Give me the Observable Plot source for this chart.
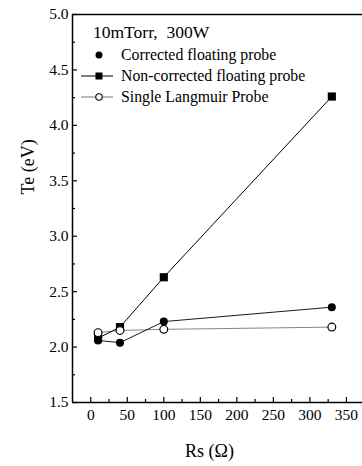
<!DOCTYPE html>
<html>
<head>
<meta charset="utf-8">
<script src="https://cdn.jsdelivr.net/npm/d3@7"></script>
<script src="https://cdn.jsdelivr.net/npm/@observablehq/plot@0.6"></script>
<style>
  html, body { margin: 0; padding: 0; background: #fff; }
  #wrap { position: relative; width: 362px; height: 466px; font-family: "Liberation Serif", "DejaVu Serif", serif; }
  #wrap svg, #wrap svg text { font-family: "Liberation Serif", "DejaVu Serif", serif !important; }
  #legend { position: absolute; left: 0; top: 0; pointer-events: none; }
</style>
</head>
<body>
<div id="wrap"></div>
<script>
// ---- data ----
const rs = [10, 40, 100, 330];
const corrected = [2.06, 2.04, 2.23, 2.36];
const nonCorrected = [2.08, 2.18, 2.63, 4.26];
const langmuir = [2.13, 2.15, 2.16, 2.18];
const xMajorTicks = [0, 50, 100, 150, 200, 250, 300, 350];
const xMinorTicks = [25, 75, 125, 175, 225, 275, 325];
const yMajorTicks = [1.5, 2.0, 2.5, 3.0, 3.5, 4.0, 4.5, 5.0];
const yMinorTicks = [1.75, 2.25, 2.75, 3.25, 3.75, 4.25, 4.75];
const title = "10mTorr,\u00A0\u00A0300W";
const seriesNames = ["Corrected floating probe", "Non-corrected floating probe", "Single Langmuir Probe"];
const xLabel = "Rs (\u03A9)";
const yLabel = "Te (eV)";

const xDomain = [-25, 372];
const yDomain = [1.5, 5.0];

const toRows = (vals) => rs.map((x, i) => ({x, y: vals[i]}));
const rowsC = toRows(corrected);
const rowsN = toRows(nonCorrected);
const rowsL = toRows(langmuir);

const W = 362, H = 466, mL = 72, mR = 0, mT = 14, mB = 64;
const kx = (W - mL - mR) / (xDomain[1] - xDomain[0]);
const ky = (H - mT - mB) / (yDomain[1] - yDomain[0]);
const FF = "Liberation Serif";

const plot = Plot.plot({
  width: W,
  height: H,
  marginLeft: mL,
  marginRight: mR,
  marginTop: mT,
  marginBottom: mB,
  style: { background: "#fff", fontFamily: FF },
  x: { domain: xDomain, label: null },
  y: { domain: yDomain, label: null },
  marks: [
    Plot.ruleY([yDomain[1]], { stroke: "#000", strokeWidth: 1.5 }),
    Plot.ruleY([yDomain[0]], { stroke: "#000", strokeWidth: 1.5 }),
    Plot.ruleX([xDomain[0]], { stroke: "#000", strokeWidth: 1.5 }),
    Plot.ruleX(xMajorTicks, { y1: yDomain[0], y2: yDomain[0] + 5 / ky, stroke: "#000", strokeWidth: 1.2 }),
    Plot.ruleX(xMinorTicks, { y1: yDomain[0], y2: yDomain[0] + 3 / ky, stroke: "#000", strokeWidth: 1.2 }),
    Plot.ruleY(yMajorTicks, { x1: xDomain[0], x2: xDomain[0] + 5 / kx, stroke: "#000", strokeWidth: 1.2 }),
    Plot.ruleY(yMinorTicks, { x1: xDomain[0], x2: xDomain[0] + 3 / kx, stroke: "#000", strokeWidth: 1.2 }),
    Plot.axisX(xMajorTicks, { tickSize: 0, tickPadding: 6, fontSize: 15.5, fontFamily: FF, tickFormat: d => String(d), fill: "#000" }),
    Plot.axisY(yMajorTicks, { tickSize: 0, tickPadding: 4, fontSize: 15.5, fontFamily: FF, tickFormat: d => d.toFixed(1), fill: "#000" }),
    Plot.text([xLabel], { frameAnchor: "bottom", dy: 54, fontSize: 18, fontFamily: FF, fill: "#000", dx: -8 }),
    Plot.text([yLabel], { frameAnchor: "left", dx: -44, dy: -14, rotate: -90, fontSize: 18, fontFamily: FF, fill: "#000" }),
    Plot.line(rowsL, { x: "x", y: "y", stroke: "#777", strokeWidth: 0.9 }),
    Plot.line(rowsN, { x: "x", y: "y", stroke: "#000", strokeWidth: 1 }),
    Plot.line(rowsC, { x: "x", y: "y", stroke: "#000", strokeWidth: 0.9 }),
    Plot.dot(rowsN, { x: "x", y: "y", symbol: "square", r: 4.6, fill: "#000", stroke: "none" }),
    Plot.dot(rowsC, { x: "x", y: "y", symbol: "circle", r: 4, fill: "#000", stroke: "none" }),
    Plot.dot(rowsL, { x: "x", y: "y", symbol: "circle", r: 3.9, fill: "#fff", stroke: "#000", strokeWidth: 1.2 })
  ]
});

const wrap = document.getElementById("wrap");
wrap.appendChild(plot);

const ns = "http://www.w3.org/2000/svg";
const lg = document.createElementNS(ns, "svg");
lg.setAttribute("id", "legend");
lg.setAttribute("width", W);
lg.setAttribute("height", 120);
const mk = (tag, attrs, text) => {
  const el = document.createElementNS(ns, tag);
  for (const k in attrs) el.setAttribute(k, attrs[k]);
  if (text) el.textContent = text;
  lg.appendChild(el);
  return el;
};
mk("text", { x: 93, y: 38, "font-size": 17.5, fill: "#000", "font-family": FF }, title);
const rowsY = [55, 76, 97];
mk("circle", { cx: 99, cy: rowsY[0], r: 3.5, fill: "#000" });
mk("line", { x1: 81, x2: 113, y1: rowsY[1], y2: rowsY[1], stroke: "#000", "stroke-width": 1 });
mk("rect", { x: 95.5, y: rowsY[1] - 3.5, width: 7, height: 7, fill: "#000" });
mk("line", { x1: 81, x2: 113, y1: rowsY[2], y2: rowsY[2], stroke: "#777", "stroke-width": 1 });
mk("circle", { cx: 99, cy: rowsY[2], r: 3.2, fill: "#fff", stroke: "#000", "stroke-width": 1.1 });
seriesNames.forEach((s, i) => {
  mk("text", { x: 121, y: rowsY[i] + 5, "font-size": 15.8, fill: "#000", "font-family": FF }, s);
});
wrap.appendChild(lg);
</script>
</body>
</html>
